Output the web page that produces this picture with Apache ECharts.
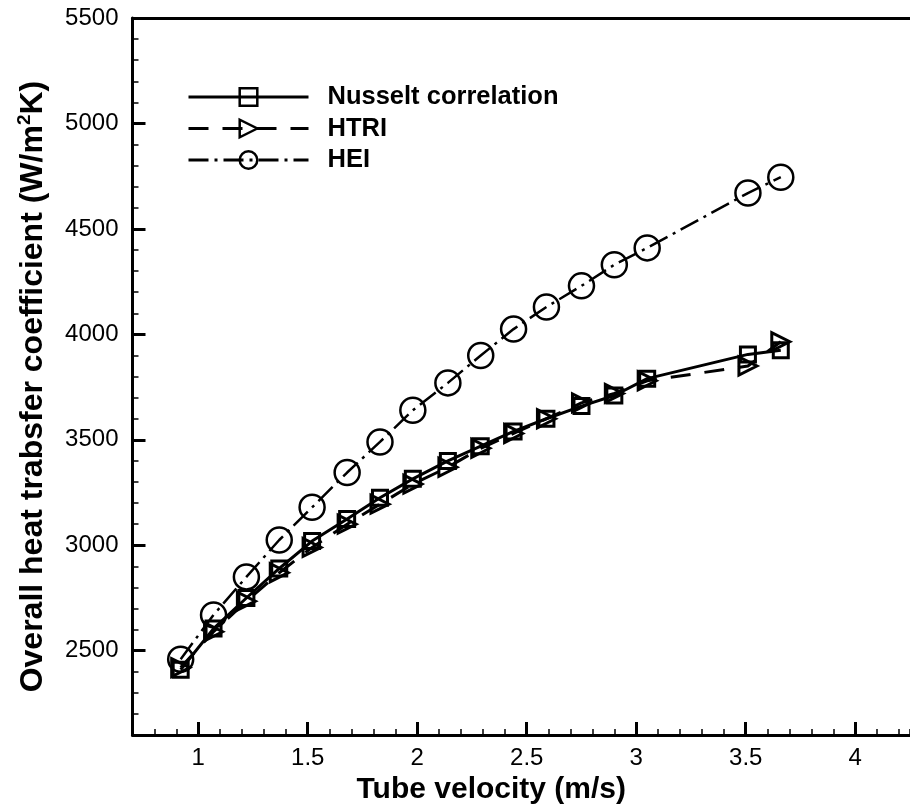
<!DOCTYPE html>
<html>
<head>
<meta charset="utf-8">
<script src="https://cdn.jsdelivr.net/npm/echarts@6/dist/echarts.min.js"></script>
<style>html,body{margin:0;padding:0;background:#fff;}#c{width:910px;height:810px;}</style>
</head>
<body>
<div id="c"></div>
<script>
const velocity = [0.92, 1.07, 1.22, 1.37, 1.52, 1.68, 1.83, 1.98, 2.14, 2.29, 2.44, 2.59, 2.75, 2.90, 3.05, 3.51, 3.66];
const nusselt = [2410, 2605, 2750, 2890, 3020, 3125, 3225, 3315, 3400, 3470, 3540, 3600, 3660, 3710, 3790, 3905, 3925];
const htri    = [2420, 2590, 2735, 2870, 2990, 3100, 3195, 3290, 3370, 3460, 3530, 3600, 3675, 3720, 3780, 3850, 3965];
const hei     = [2460, 2670, 2850, 3025, 3180, 3345, 3490, 3640, 3770, 3900, 4025, 4130, 4230, 4330, 4410, 4670, 4745];
const seriesNames = ['Nusselt correlation', 'HTRI', 'HEI'];

const pairs = (ys) => velocity.map((x, i) => [x, ys[i]]);
const chart = echarts.init(document.getElementById('c'));
const axisFont = "'Liberation Sans', Arial, sans-serif";
const titleFont = "'Liberation Sans', Arial, sans-serif";
const black = '#000';

chart.setOption({
  backgroundColor: '#fff',
  animation: false,
  grid: { left: 132.5, top: 18, right: 0, height: 718 },
  legend: {
    orient: 'vertical', left: 182, top: 79,
    itemWidth: 120, itemHeight: 22, itemGap: 5.5,
    lineStyle: { width: 3 },
    itemStyle: { borderWidth: 2.5 },
    textStyle: { fontFamily: titleFont, fontWeight: 'bold', fontSize: 25.5, lineHeight: 22, color: black, padding: [0, 0, 0, 14] },
    data: seriesNames
  },
  xAxis: [
    {
      type: 'value', min: 0.7, max: 4.25, splitNumber: 7, position: 'bottom',
      axisLine: { lineStyle: { color: black, width: 3 } },
      axisTick: { inside: true, length: 13, lineStyle: { color: black, width: 3 } },
      axisLabel: { showMinLabel: false, showMaxLabel: false, margin: 11, fontFamily: axisFont, fontSize: 24, color: black },
      splitLine: { show: false },
      name: 'Tube velocity (m/s)', nameLocation: 'middle', nameGap: 25,
      nameTextStyle: { fontFamily: titleFont, fontWeight: 'bold', fontSize: 30, color: black, padding: [0, 60, 0, 0] }
    },
    {
      type: 'value', min: 0.7, max: 4.25, interval: 0.1, position: 'bottom',
      axisLine: { show: false },
      axisTick: { inside: true, length: 6, lineStyle: { color: black, width: 1.5 } },
      axisLabel: { show: false }, splitLine: { show: false }
    },
    {
      type: 'value', min: 0.7, max: 4.25, position: 'top',
      axisLine: { lineStyle: { color: black, width: 3 } },
      axisTick: { show: false }, axisLabel: { show: false }, splitLine: { show: false }
    }
  ],
  yAxis: [
    {
      type: 'value', min: 2100, max: 5500, splitNumber: 7, position: 'left',
      axisLine: { lineStyle: { color: black, width: 3 } },
      axisTick: { inside: true, length: 13, lineStyle: { color: black, width: 3 } },
      axisLabel: { showMinLabel: false, margin: 14, fontFamily: axisFont, fontSize: 24, color: black, formatter: (v) => String(v) },
      splitLine: { show: false },
      name: 'Overall heat trabsfer coefficient (W/m{sup|2}K)', nameLocation: 'middle', nameGap: 81,
      nameTextStyle: {
        fontFamily: titleFont, fontWeight: 'bold', fontSize: 32, color: black, lineHeight: 36, padding: [0, 20, 0, 0],
        rich: { sup: { fontFamily: titleFont, fontWeight: 'bold', fontSize: 19, color: black, verticalAlign: 'top', lineHeight: 36, padding: [0, 0, 14, 0] } }
      }
    },
    {
      type: 'value', min: 2100, max: 5500, interval: 100, position: 'left',
      axisLine: { show: false },
      axisTick: { inside: true, length: 6, lineStyle: { color: black, width: 1.5 } },
      axisLabel: { show: false }, splitLine: { show: false }
    }
  ],
  series: [
    {
      name: seriesNames[0], type: 'line', data: pairs(nusselt),
      symbol: 'rect', symbolSize: 15, showAllSymbol: true,
      lineStyle: { color: black, width: 3, type: 'solid' },
      itemStyle: { color: 'rgba(0,0,0,0)', borderColor: black, borderWidth: 3 }
    },
    {
      name: seriesNames[1], type: 'line', data: pairs(htri),
      symbol: 'triangle', symbolSize: 18, symbolRotate: -90, showAllSymbol: true,
      lineStyle: { color: black, width: 3, type: [20, 14] },
      itemStyle: { color: 'rgba(0,0,0,0)', borderColor: black, borderWidth: 3 }
    },
    {
      name: seriesNames[2], type: 'line', data: pairs(hei),
      symbol: 'circle', symbolSize: 25, showAllSymbol: true,
      lineStyle: { color: black, width: 2.5, type: [20, 6, 3, 6] },
      itemStyle: { color: 'rgba(0,0,0,0)', borderColor: black, borderWidth: 2.5 }
    }
  ]
});
</script>
</body>
</html>
